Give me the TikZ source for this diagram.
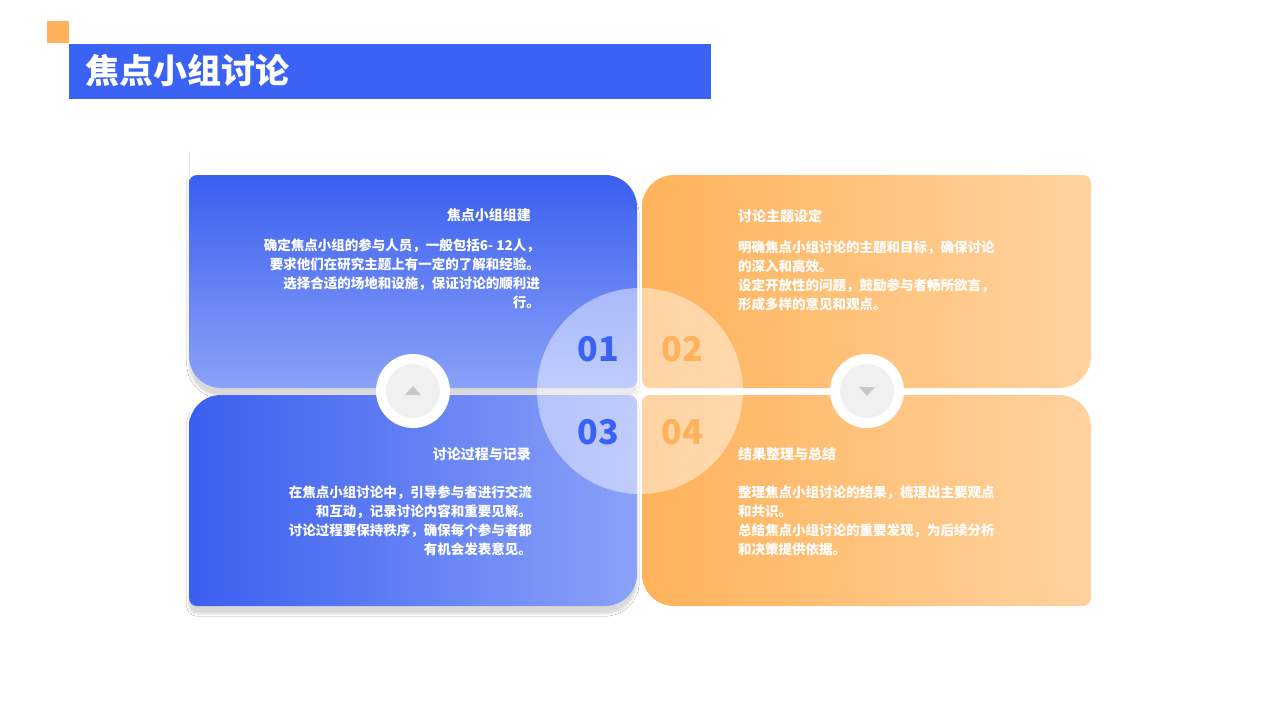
\documentclass[tikz,border=0pt]{standalone}
\usepackage{fontspec}
\setmainfont{Noto Sans CJK SC}
\newfontfamily\cjkb{Noto Sans CJK SC Bold}
\usetikzlibrary{shadows.blur}
\definecolor{bA}{HTML}{3A5FF0}
\definecolor{bB}{HTML}{8BA2F8}
\definecolor{oA}{HTML}{FFB25A}
\definecolor{oB}{HTML}{FFD39F}
\definecolor{ttl}{HTML}{3A62F5}
\begin{document}
\begin{tikzpicture}[x=1pt,y=-1pt,
  body/.style={text=white,font=\fontsize{13.5}{19}\selectfont\bfseries,inner sep=0pt},
  head/.style={text=white,font=\fontsize{14}{18}\selectfont\bfseries,inner sep=0pt},
  num/.style={font=\fontsize{34}{34}\selectfont\bfseries,inner sep=0pt}]
\useasboundingbox[fill=white] (0,0) rectangle (1280,720);
\fill[fill=oA] (47,21) rectangle (69,43);
\fill[ttl] (69,44) rectangle (711,99);
\node[anchor=west,text=white,font=\fontsize{34}{34}\selectfont\bfseries,inner sep=0pt] (title) at (85,71) {焦点小组讨论};
% panels
\shade[left color=bA,right color=bB,shading angle=0,blur shadow={shadow xshift=0pt,shadow yshift=-8pt,shadow opacity=15}]
  (189,183) [rounded corners=8] -- (189,175) [rounded corners=32] -- (637,175) [rounded corners=8] -- (637,388) [rounded corners=32]-- (189,388) -- cycle;
\shade[left color=oA,right color=oB]
  (642,183) [rounded corners=32] -- (642,175) [rounded corners=8] -- (1091,175) [rounded corners=32] -- (1091,388) [rounded corners=8] -- (642,388) -- cycle;
\shade[left color=bA,right color=bB,blur shadow={shadow xshift=0pt,shadow yshift=-8pt,shadow opacity=15}]
  (189,420) [rounded corners=32] -- (189,395) [rounded corners=8] -- (637,395) [rounded corners=32] -- (637,606) [rounded corners=8] -- (189,606) -- cycle;
\shade[left color=oA,right color=oB]
  (642,420) [rounded corners=8] -- (642,395) [rounded corners=32] -- (1091,395) [rounded corners=8] -- (1091,606) [rounded corners=32] -- (642,606) -- cycle;
% center circle
\fill[white,opacity=0.45] (640,391) circle (103);
% small circles
\foreach \cx/\d in {413/-1,867/1}{
  \fill[white] (\cx,391) circle (37);
  \fill[black!6] (\cx,391) circle (27);
  \fill[black!22] (\cx-8,391-4*\d) -- (\cx+8,391-4*\d) -- (\cx,391+5*\d) -- cycle;
}
\node[num,text=ttl] (n1) at (598,349) {01};
\node[num,text=oA] (n2) at (682,349) {02};
\node[num,text=ttl] (n3) at (598,432) {03};
\node[num,text=oA] (n4) at (682,432) {04};
% texts
\node[head,anchor=east] (h1) at (531,215) {焦点小组组建};
\node[body,anchor=north east,align=right] (t1) at (540,239) {确定焦点小组的参与人员，一般包括6- 12人，\\要求他们在研究主题上有一定的了解和经验。\\选择合适的场地和设施，保证讨论的顺利进\\行。};
\node[head,anchor=west] (h2) at (738,216) {讨论主题设定};
\node[body,anchor=north west,align=left] (t2) at (738,241) {明确焦点小组讨论的主题和目标，确保讨论\\的深入和高效。\\设定开放性的问题，鼓励参与者畅所欲言，\\形成多样的意见和观点。};
\node[head,anchor=east] (h3) at (531,454) {讨论过程与记录};
\node[body,anchor=north east,align=right] (t3) at (532,486) {在焦点小组讨论中，引导参与者进行交流\\和互动，记录讨论内容和重要见解。\\讨论过程要保持秩序，确保每个参与者都\\有机会发表意见。};
\node[head,anchor=west] (h4) at (738,454) {结果整理与总结};
\node[body,anchor=north west,align=left] (t4) at (738,486) {整理焦点小组讨论的结果，梳理出主要观点\\和共识。\\总结焦点小组讨论的重要发现，为后续分析\\和决策提供依据。};
\end{tikzpicture}
\end{document}
